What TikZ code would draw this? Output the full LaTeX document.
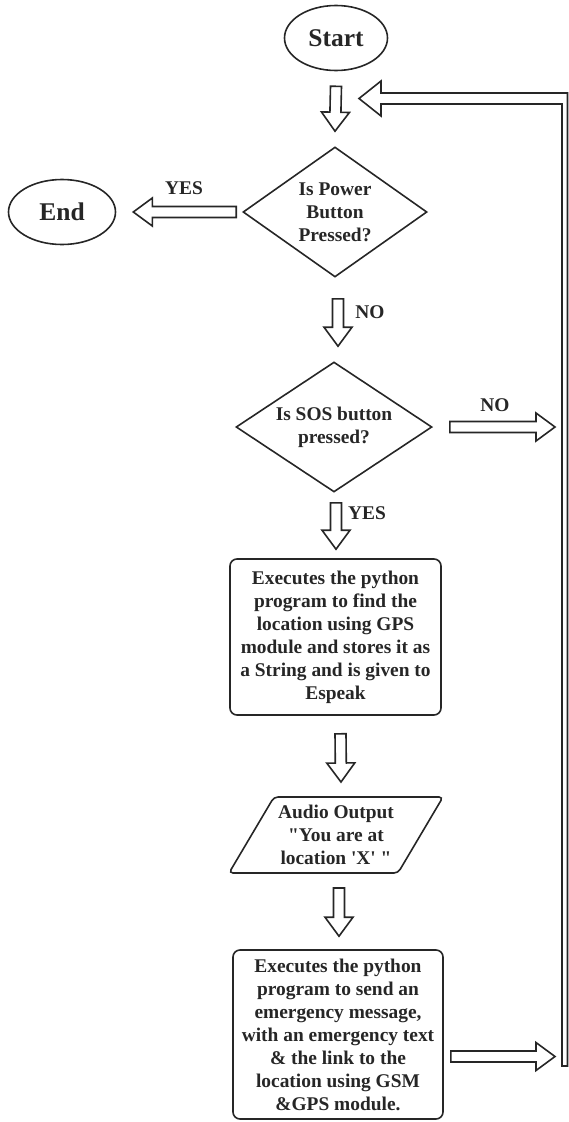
\documentclass[tikz,border=0pt]{standalone}
\usepackage{fontspec}
\setmainfont{Liberation Serif}
\newfontfamily\fcfont{Liberation Serif}
\usetikzlibrary{shapes.geometric,calc}
\tikzset{
  ln/.style={draw=black!85, line width=1.6pt},
  txt/.style={font=\fcfont\bfseries\fontsize{19.4}{23}\selectfont, align=center, text=black!85},
  term/.style={ln, ellipse, txt, font=\fcfont\bfseries\fontsize{25.5}{30}\selectfont, inner sep=0pt},
  decision/.style={ln, diamond, txt, inner sep=0pt},
  procbox/.style={ln, rectangle, rounded corners=7pt, txt, inner sep=0pt},
  lbl/.style={txt},
  barrow/.style={ln, fill=white, line join=miter},
}
\newcommand\blockarrow[2]{%
  \coordinate (ba-b) at ($(#2)!19pt!(#1)$);
  \draw[barrow] ($(#1)!5.5pt!90:(#2)$) -- ($(ba-b)!5.5pt!90:(#2)$) -- ($(ba-b)!14pt!90:(#2)$) -- (#2)
    -- ($(ba-b)!14pt!-90:(#2)$) -- ($(ba-b)!5.5pt!-90:(#2)$) -- ($(#1)!5.5pt!-90:(#2)$) -- cycle;}
\begin{document}
\begin{tikzpicture}[x=1pt,y=-1pt]
\useasboundingbox (0,0) rectangle (569,1122);
% nodes
\node[term, minimum width=103, minimum height=65] (start) at (336,38) {Start};
\node[decision, minimum width=184, minimum height=130, aspect=1.415] (d1) at (335,212) {Is Power\\Button\\Pressed?};
\node[term, minimum width=107, minimum height=65] (end) at (62,212) {End};
\node[decision, minimum width=196, minimum height=130, aspect=1.5] (d2) at (334,427) {Is SOS button\\pressed?};
\node[procbox, minimum width=211, minimum height=156] (p1) at (335.5,637) {Executes the python\\program to find the\\location using GPS\\module and stores it as\\a String and is given to\\Espeak};
\node[txt] (io) at (336,835) {Audio Output\\"You are at\\location 'X' "};
\draw[ln, rounded corners=4pt] ($(io)+(-62,-38)$) -- ($(io)+(107,-38)$) -- ($(io)+(62,38)$) -- ($(io)+(-107,38)$) -- cycle;
\node[procbox, minimum width=210, minimum height=169] (p2) at (338,1034.5) {Executes the python\\program to send an\\emergency message,\\with an emergency text\\\& the link to the\\location using GSM\\\&GPS module.};
% labels
\node[lbl] (lyes1) at (184,188) {YES};
\node[lbl] (lno1) at (370,312) {NO};
\node[lbl] (lno2) at (495,405) {NO};
\node[lbl] (lyes2) at (367,513) {YES};
% connector end points
\coordinate (a1s) at ($(start.south)+(0,15)$);
\coordinate (a1e) at ($(d1.north)+(0,-15)$);
\coordinate (a2s) at ($(d1.south)+(3,21)$);
\coordinate (a2e) at ($(d2.north)+(4,-15)$);
\coordinate (a3s) at ($(d2.south)+(2,10)$);
\coordinate (a3e) at ($(p1.north)+(0.5,-9)$);
\coordinate (a4s) at ($(p1.south)+(5,18)$);
\coordinate (a4e) at ($(io)+(5,-53)$);
\coordinate (a5s) at ($(io)+(3,53)$);
\coordinate (a5e) at ($(p2.north)+(1,-13)$);
\coordinate (ays) at ($(d1.west)+(-6,0)$);
\coordinate (aye) at ($(end.east)+(17,0)$);
\coordinate (ans) at ($(d2.east)+(17,0)$);
\coordinate (ane) at (555,427);
\coordinate (abs) at ($(p2.east)+(7,22)$);
\coordinate (abe) at (555,1056.5);
% block arrows
\blockarrow{a1s}{a1e}
\blockarrow{a2s}{a2e}
\blockarrow{a3s}{a3e}
\blockarrow{a4s}{a4e}
\blockarrow{a5s}{a5e}
\blockarrow{ays}{aye}
\blockarrow{ans}{ane}
\blockarrow{abs}{abe}
% loop back
\draw[barrow] (567.5,1066) -- (567.5,93) -- (381,93) -- (381,81) -- (359,98.5) -- (381,116) -- (381,104) -- (562,104) -- (562,1066) -- cycle;
\end{tikzpicture}
\end{document}
